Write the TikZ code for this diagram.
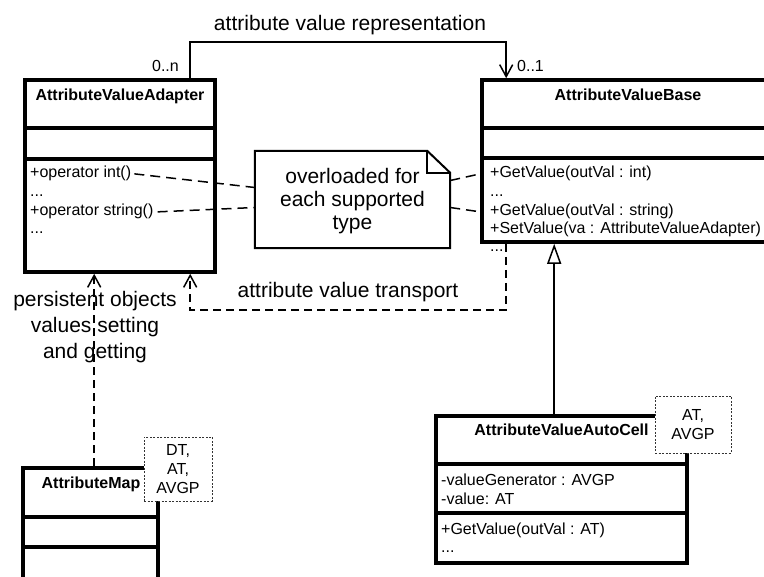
\documentclass[tikz,border=0pt]{standalone}
\usepackage{fontspec}
\setmainfont{Liberation Sans}
\usetikzlibrary{arrows.meta}

\tikzset{
  classbox/.style={draw, line width=3.6pt, fill=white, inner sep=0pt, rectangle},
  compline/.style={line width=3.6pt},
  ctitle/.style={font=\fontsize{16}{19}\selectfont\bfseries, anchor=base, inner sep=0pt},
  member/.style={font=\fontsize{16}{19}\selectfont, anchor=base west, inner sep=0pt},
  bigtxt/.style={font=\fontsize{21}{26}\selectfont, inner sep=0pt},
  mult/.style={font=\fontsize{16}{19}\selectfont, inner sep=0pt},
  tmpl/.style={draw=black!80, line width=0.9pt, dash pattern=on 2pt off 1.5pt,
    fill=white, inner sep=0pt, align=center,
    font=\fontsize{16}{19}\selectfont},
  assoc/.style={line width=1.5pt},
  dep/.style={line width=1.5pt, dash pattern=on 8pt off 5pt},
  notelink/.style={line width=1.5pt, dash pattern=on 10pt off 6pt},
  openv/.tip={Straight Barb[length=12pt, width=13pt, line width=1.5pt]},
  hollow/.tip={Triangle[length=20pt, width=14pt, fill=white, line width=1.5pt]},
}

\begin{document}
\begin{tikzpicture}[x=1pt, y=-1pt, line join=miter]
\useasboundingbox (0,0) rectangle (764,577);
\clip (0,0) rectangle (764,577);

% ---- AttributeValueAdapter ----
\node[classbox, minimum width=190pt, minimum height=192pt] (ava) at (120,176) {};
\draw[compline] (25,128) -- (215,128);
\draw[compline] (25,159) -- (215,159);
\node[ctitle] (avaT) at (120,101) {AttributeValueAdapter};
\node[member] (avaM1) at (30,178) {+operator int()};
\node[member] (avaM2) at (30,197) {...};
\node[member] (avaM3) at (30,216) {+operator string()};
\node[member] (avaM4) at (30,234) {...};

% ---- AttributeValueBase ----
\node[classbox, minimum width=293pt, minimum height=162pt] (avb) at (628.5,161) {};
\draw[compline] (482,128) -- (775,128);
\draw[compline] (482,158) -- (775,158);
\node[ctitle] (avbT) at (628,101) {AttributeValueBase};
\node[member] (avbM1) at (490,178) {+GetValue(outVal : int)};
\node[member] (avbM2) at (490,197) {...};
\node[member] (avbM3) at (490,216) {+GetValue(outVal : string)};
\node[member] (avbM4) at (490,234) {+SetValue(va : AttributeValueAdapter)};
\node[member] (avbM5) at (490,252) {...};

% ---- note (canvas y points up, so shifts below are in canvas sense) ----
\node[minimum width=195pt, minimum height=97pt, inner sep=0pt] (note) at (352.5,199.5) {};
\draw[line width=2pt, fill=white]
  (note.south west) -- (note.north west) -- ([xshift=-23pt]note.north east)
  -- ([yshift=-22pt]note.north east) -- (note.south east) -- cycle;
\draw[line width=2pt] ([xshift=-23pt]note.north east) -- ([xshift=-23pt,yshift=-22pt]note.north east)
  -- ([yshift=-22pt]note.north east);
\node[bigtxt, align=center, font=\fontsize{21}{23}\selectfont] (noteT) at (352.5,201)
  {overloaded for\\each supported\\type};

\draw[notelink] ([xshift=3pt]avaM1.east) -- ([yshift=12pt]note.west);
\draw[notelink] ([xshift=4pt]avaM3.east) -- ([yshift=-8pt]note.west);
\draw[notelink] ([yshift=19pt]note.east) -- (avb.west |- avbM1);
\draw[notelink] ([yshift=-8pt]note.east) -- (avb.west |- avbM3);

% ---- AttributeValueAutoCell ----
\node[classbox, minimum width=251pt, minimum height=147pt] (acell) at (561.5,489.5) {};
\draw[compline] (436,464) -- (687,464);
\draw[compline] (436,513) -- (687,513);
\node[ctitle] (acellT) at (561.5,436) {AttributeValueAutoCell};
\node[member] (acM1) at (441,486) {-valueGenerator : AVGP};
\node[member] (acM2) at (441,505) {-value: AT};
\node[member] (acM3) at (441,535) {+GetValue(outVal : AT)};
\node[member] (acM4) at (441,553) {...};
\node[tmpl, minimum width=76pt, minimum height=57pt] (acellP) at (693,424.5) {AT,\\AVGP};

% ---- AttributeMap ----
\node[classbox, minimum width=135pt, minimum height=152pt] (map) at (90.5,544) {};
\draw[compline] (23,517) -- (158,517);
\draw[compline] (23,547) -- (158,547);
\node[ctitle] (mapT) at (91,489) {AttributeMap};
\node[tmpl, minimum width=68pt, minimum height=64pt] (mapP) at (178,469) {DT,\\AT,\\AVGP};

% ---- association: attribute value representation ----
\draw[assoc, -openv] ([xshift=167pt]ava.north west) |- (350,42)
  -| ([xshift=26pt]avb.north west);
\node[bigtxt, anchor=base] (repL) at (350,31) {attribute value representation};
\node[mult, anchor=base east] (repA) at (179,72) {0..n};
\node[mult, anchor=base west] (repB) at (517,72) {0..1};

% ---- dependency: attribute value transport ----
\draw[dep, -openv] ([xshift=26pt]avb.south west) -- ++(0,66)
  -| ([xshift=167pt]ava.south west);
\node[bigtxt, anchor=base] (trL) at (348,298) {attribute value transport};

% ---- dependency: persistent objects ----
\draw[dep, -openv] ([xshift=73pt]map.north west) -- ([xshift=71pt]ava.south west);
\node[bigtxt, align=center] (perL) at (95,327)
  {persistent objects\\values setting\\and getting};

% ---- generalization ----
\draw[assoc, -hollow] ([xshift=120pt]acell.north west) -- ([xshift=74pt]avb.south west);
\end{tikzpicture}
\end{document}
